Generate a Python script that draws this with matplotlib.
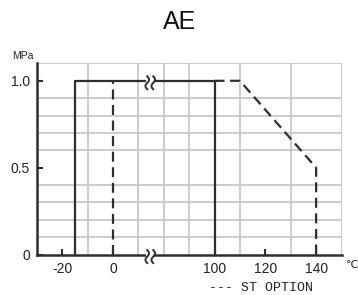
import numpy as np
import matplotlib.pyplot as plt
from matplotlib.transforms import ScaledTranslation

# temperature (degC) / pressure (MPa)
std_temp = [-15, -15, 100, 100]
std_pres = [0, 1.0, 1.0, 0]
# ST option: low side and high side (top between 0 and 100 is shared with std)
st_low_temp = [0, 0]
st_low_pres = [0, 1.0]
st_high_temp = [100, 110, 140, 140]
st_high_pres = [1.0, 1.0, 0.5, 0]
xtick_vals = [-20, 0, 100, 120, 140]
ytick_vals = [0, 0.5, 1.0]


def pos(t):
    # broken axis: -30..20 then jump to 60..150, one grid cell = 10 degC
    t = np.asarray(t, dtype=float)
    return np.where(t <= 30, 3 + t / 10.0, 7 + (t - 100) / 10.0)


fig = plt.figure(figsize=(3.58, 2.95), dpi=100)
ax = fig.add_axes([0.1025, 0.137, 0.8515, 0.648])
dark = '#2e2e2e'

ax.set_xlim(0, 12)
ax.set_ylim(0, 1.1)
ax.set_xticks(np.arange(0, 13), minor=True)
ax.set_yticks(np.arange(0, 1.11, 0.1), minor=True)
ax.grid(True, which='minor', color='#c8c8c8', lw=1.3, zorder=0)
ax.tick_params(which='minor', length=0)
for s in ['top', 'right']:
    ax.spines[s].set_visible(False)
for s in ['left', 'bottom']:
    ax.spines[s].set_color(dark)
    ax.spines[s].set_linewidth(1.8)
    ax.spines[s].set_zorder(5)

for tt, pp in [(st_low_temp, st_low_pres), (st_high_temp, st_high_pres)]:
    ax.plot(pos(tt), pp, color=dark, lw=1.6, dashes=(4.5, 2.5), zorder=3, clip_on=False)
ax.plot(pos(std_temp), std_pres, color=dark, lw=1.6, zorder=4, clip_on=False)

ax.set_xticks(pos(xtick_vals))
ax.set_xticklabels([str(v) for v in xtick_vals])
ax.set_yticks(ytick_vals)
ax.set_yticklabels(['0', '0.5', '1.0'])
ax.tick_params(direction='in', length=4, width=1.5, color=dark, labelsize=10,
               labelcolor='#222222', pad=5)
for lab in ax.get_xticklabels() + ax.get_yticklabels():
    lab.set_family('Liberation Sans')

# break marks (drawn in inches around the break point)
brk_x = 4.47
yy = np.linspace(-0.065, 0.065, 40)
xx = 0.018 * np.sin(np.pi * yy / 0.065)
for yb in [1.0, 0.0]:
    tr = fig.dpi_scale_trans + ScaledTranslation(brk_x, yb, ax.transData)
    ax.plot([-0.04, 0.04], [0, 0], color='white', lw=3, transform=tr,
            zorder=6, clip_on=False, solid_capstyle='butt')
    for dx in [-0.03, 0.03]:
        ax.plot(xx + dx, yy - 0.02, color=dark, lw=1.4, transform=tr,
                zorder=7, clip_on=False)

fig.text(0.503, 0.927, 'AE', ha='center', va='center', fontsize=18,
         family='Liberation Sans', color='#111111')
fig.text(0.035, 0.81, 'MPa', ha='left', va='center', fontsize=7.5,
         family='Liberation Sans', color='#222222')
fig.text(0.965, 0.1, '\u2103', ha='left', va='center', fontsize=8,
         family='DejaVu Sans', color='#222222')
fig.text(0.585, 0.025, '--- ST OPTION', ha='left', va='center', fontsize=9.5,
         family='Liberation Mono', color='#222222')

fig.savefig('out.png', dpi=100)
